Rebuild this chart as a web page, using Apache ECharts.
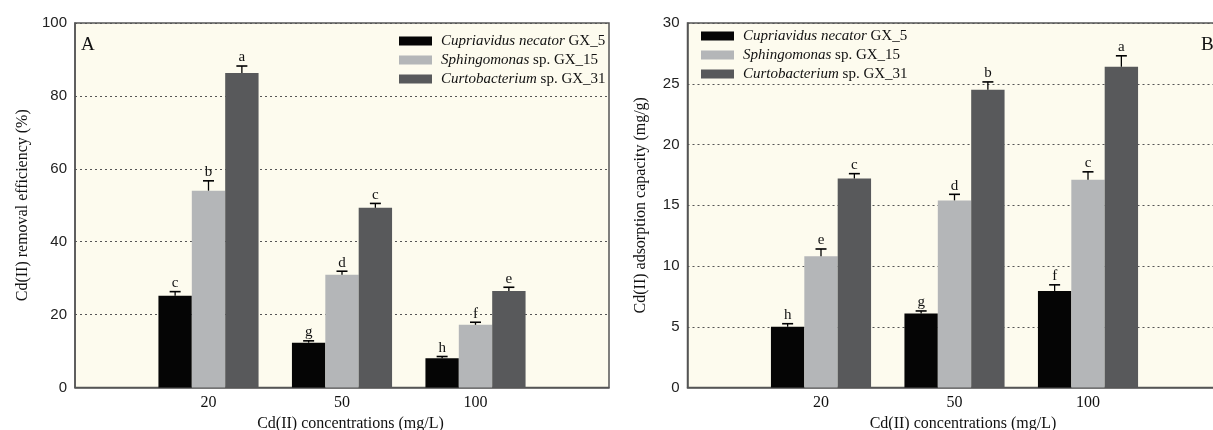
<!DOCTYPE html>
<html>
<head>
<meta charset="utf-8">
<script src="https://cdn.jsdelivr.net/npm/echarts@6/dist/echarts.min.js"></script>
<style>
html,body{margin:0;padding:0;background:#fff;}
#chart{width:1213px;height:430px;}
</style>
</head>
<body>
<div id="chart"></div>
<script>
// ---- data ----
const categories = ['20', '50', '100'];
const speciesItalic = ['Cupriavidus necator', 'Sphingomonas', 'Curtobacterium'];
const speciesSuffix = ['GX_5', 'sp. GX_15', 'sp. GX_31'];

// Panel A: Cd(II) removal efficiency (%)
const removalGX5  = [25.2, 12.3, 8.0];
const removalGX15 = [54.0, 30.9, 17.2];
const removalGX31 = [86.3, 49.3, 26.5];
const removalErrGX5  = [1.1, 0.5, 0.5];
const removalErrGX15 = [2.7, 1.0, 0.7];
const removalErrGX31 = [1.9, 1.2, 1.0];
const removalLetGX5  = ['c', 'g', 'h'];
const removalLetGX15 = ['b', 'd', 'f'];
const removalLetGX31 = ['a', 'c', 'e'];
const removalTicks = [0, 20, 40, 60, 80, 100];

// Panel B: Cd(II) adsorption capacity (mg/g)
const adsorbGX5  = [5.0, 6.1, 7.95];
const adsorbGX15 = [10.8, 15.4, 17.1];
const adsorbGX31 = [17.2, 24.5, 26.4];
const adsorbErrGX5  = [0.25, 0.2, 0.5];
const adsorbErrGX15 = [0.6, 0.5, 0.65];
const adsorbErrGX31 = [0.4, 0.65, 0.9];
const adsorbLetGX5  = ['h', 'g', 'f'];
const adsorbLetGX15 = ['e', 'd', 'c'];
const adsorbLetGX31 = ['c', 'b', 'a'];
const adsorbTicks = [0, 5, 10, 15, 20, 25, 30];

// ---- styling ----
const colors = ['#050505', '#b4b6b8', '#58595b'];
const serif = '"Liberation Serif", "DejaVu Serif", serif';
const sans = '"Liberation Sans", Arial, sans-serif';
const seriesNames = speciesItalic.map((s, i) => s + ' ' + speciesSuffix[i]);
const paddedCats = [''].concat(categories, ['']);
const BAR_FRAC = 0.25;

function pad(arr) { return ['-'].concat(arr, ['-']); }

function barSeries(k, vals, gi) {
  return {
    type: 'bar', name: seriesNames[k], xAxisIndex: gi, yAxisIndex: gi,
    data: pad(vals), barWidth: '25%', barGap: '0%',
    itemStyle: { color: colors[k] }, z: 2, animation: false
  };
}

function errSeries(k, vals, errs, letters, gi) {
  return {
    type: 'custom', name: seriesNames[k], xAxisIndex: gi, yAxisIndex: gi,
    data: vals.map((v, i) => [i + 1, v, errs[i]]),
    z: 5, animation: false, silent: true,
    renderItem: function (params, api) {
      const x = api.value(0), v = api.value(1), e = api.value(2);
      const base = api.coord([x, v]);
      const top = api.coord([x, v + e]);
      const bw = api.size([1, 0])[0] * BAR_FRAC;
      const cx = base[0] + (k - 1) * bw;
      return {
        type: 'group',
        children: [
          { type: 'line', shape: { x1: cx, y1: base[1], x2: cx, y2: top[1] },
            style: { stroke: '#000', lineWidth: 1.3 } },
          { type: 'line', shape: { x1: cx - 5.5, y1: top[1], x2: cx + 5.5, y2: top[1] },
            style: { stroke: '#000', lineWidth: 1.6 } },
          { type: 'text', x: cx, y: top[1] - 1,
            style: { text: letters[params.dataIndex], align: 'center', verticalAlign: 'bottom',
                     font: '15px ' + serif, fill: '#111' } }
        ]
      };
    }
  };
}

function legendFor(left, top) {
  return {
    left: left, top: top, orient: 'vertical', itemWidth: 33, itemHeight: 9, padding: 0,
    itemGap: 1, icon: 'rect', selectedMode: false, data: seriesNames,
    formatter: function (name) {
      const i = seriesNames.indexOf(name);
      return '{i|' + speciesItalic[i] + '} {n|' + speciesSuffix[i] + '}';
    },
    textStyle: {
      fontFamily: serif, fontSize: 15, color: '#111', lineHeight: 18, padding: [0, 0, 0, 4],
      rich: {
        i: { fontFamily: serif, fontSize: 15, fontStyle: 'italic', color: '#111' },
        n: { fontFamily: serif, fontSize: 15, color: '#111' }
      }
    }
  };
}

function xAxisFor(gi) {
  return {
    type: 'category', gridIndex: gi, data: paddedCats, boundaryGap: false,
    axisLine: { lineStyle: { color: '#555', width: 1.5 } },
    axisTick: { show: false },
    axisLabel: { fontFamily: serif, fontSize: 16, color: '#111', margin: 7 },
    name: 'Cd(II) concentrations (mg/L)', nameLocation: 'middle', nameGap: 26,
    nameTextStyle: { fontFamily: serif, fontSize: 16, color: '#111', padding: [0, 0, 0, 17] },
    splitLine: { show: false }
  };
}

function yAxisFor(gi, ticks, name, nameGap) {
  return {
    type: 'value', gridIndex: gi, min: ticks[0], max: ticks[ticks.length - 1],
    interval: ticks[1] - ticks[0],
    axisLine: { show: true, lineStyle: { color: '#555', width: 1.5 } },
    axisTick: { show: false },
    axisLabel: { fontFamily: sans, fontSize: 15, color: '#222', margin: 8 },
    splitLine: { show: true, lineStyle: { color: '#555', type: [2, 3], width: 1 } },
    name: name, nameLocation: 'middle', nameGap: nameGap,
    nameTextStyle: { fontFamily: serif, fontSize: 16, color: '#111' }
  };
}

const option = {
  backgroundColor: '#ffffff',
  animation: false,
  grid: [
    { left: 75, top: 23, width: 534, height: 364.5, show: true, outerBoundsMode: 'none',
      containLabel: false,
      backgroundColor: '#fdfbee', borderColor: '#555', borderWidth: 1.5 },
    { left: 687.5, top: 23, width: 534, height: 364.5, show: true, outerBoundsMode: 'none',
      containLabel: false,
      backgroundColor: '#fdfbee', borderColor: '#555', borderWidth: 1.5 }
  ],
  legend: [legendFor(399, 32), legendFor(701, 27)],
  xAxis: [xAxisFor(0), xAxisFor(1)],
  yAxis: [
    yAxisFor(0, removalTicks, 'Cd(II) removal efficiency (%)', 44),
    yAxisFor(1, adsorbTicks, 'Cd(II) adsorption capacity (mg/g)', 39)
  ],
  graphic: [
    { type: 'text', left: 81, top: 36, style: { text: 'A', font: '19px ' + serif, fill: '#111' } },
    { type: 'text', left: 1201, top: 36, style: { text: 'B', font: '19px ' + serif, fill: '#111' } }
  ],
  series: [
    barSeries(0, removalGX5, 0), barSeries(1, removalGX15, 0), barSeries(2, removalGX31, 0),
    errSeries(0, removalGX5, removalErrGX5, removalLetGX5, 0),
    errSeries(1, removalGX15, removalErrGX15, removalLetGX15, 0),
    errSeries(2, removalGX31, removalErrGX31, removalLetGX31, 0),
    barSeries(0, adsorbGX5, 1), barSeries(1, adsorbGX15, 1), barSeries(2, adsorbGX31, 1),
    errSeries(0, adsorbGX5, adsorbErrGX5, adsorbLetGX5, 1),
    errSeries(1, adsorbGX15, adsorbErrGX15, adsorbLetGX15, 1),
    errSeries(2, adsorbGX31, adsorbErrGX31, adsorbLetGX31, 1)
  ]
};

const chart = echarts.init(document.getElementById('chart'), null, { renderer: 'canvas' });
chart.setOption(option);
</script>
</body>
</html>
